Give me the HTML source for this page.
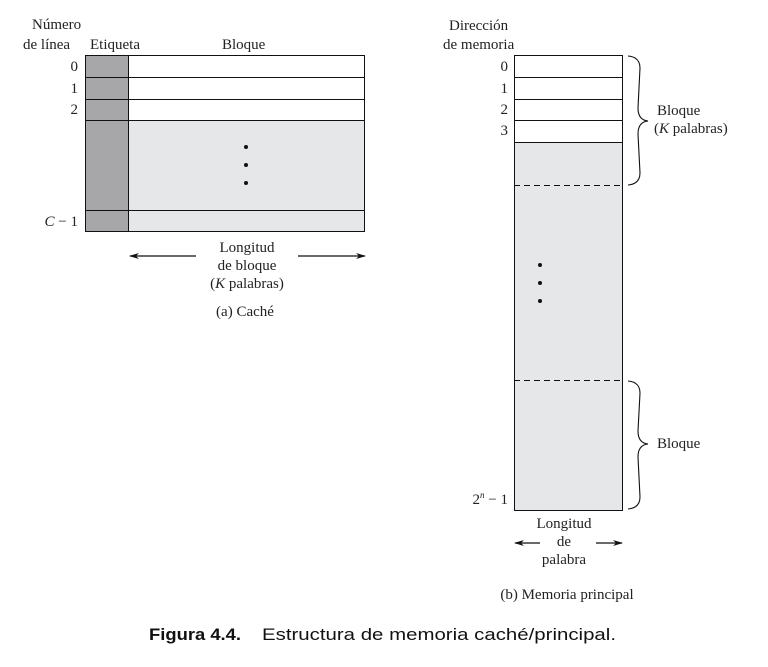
<!DOCTYPE html>
<html><head><meta charset="utf-8"><style>
html,body{margin:0;padding:0;background:#fff;}
svg{display:block;}
.s{font-family:"Liberation Serif",serif;font-size:15px;fill:#222;}
</style></head><body>
<svg width="768" height="667" viewBox="0 0 768 667" xmlns="http://www.w3.org/2000/svg">
<defs>
<marker id="ah" markerWidth="10" markerHeight="6" refX="9" refY="3" orient="auto" markerUnits="userSpaceOnUse">
<path d="M0,0 L10,3 L0,6 L3,3 Z" fill="#111"/>
</marker>
</defs>
<!-- Cache -->
<text class="s" x="32" y="29">Número</text>
<text class="s" x="23" y="49">de línea</text>
<text class="s" x="90" y="49">Etiqueta</text>
<text class="s" x="222" y="49">Bloque</text>
<rect x="128.5" y="120.5" width="236" height="111" fill="#e6e7e9"/>
<rect x="85.5" y="55.5" width="43" height="176" fill="#a7a7aa" stroke="#111"/>
<rect x="85.5" y="55.5" width="279" height="176" fill="none" stroke="#111"/>
<g stroke="#111">
<line x1="85" y1="77.5" x2="365" y2="77.5"/>
<line x1="85" y1="99.5" x2="365" y2="99.5"/>
<line x1="85" y1="120.5" x2="365" y2="120.5"/>
<line x1="85" y1="210.5" x2="365" y2="210.5"/>
</g>
<g fill="#111"><circle cx="246" cy="147" r="2"/><circle cx="246" cy="165" r="2"/><circle cx="246" cy="183" r="2"/></g>
<g class="s" text-anchor="end">
<text x="78" y="71">0</text><text x="78" y="93">1</text><text x="78" y="114">2</text>
<text x="78" y="226"><tspan font-style="italic">C</tspan> − 1</text>
</g>
<g stroke="#111" stroke-width="1.2">
<line x1="196" y1="256" x2="130" y2="256" marker-end="url(#ah)"/>
<line x1="298" y1="256" x2="365" y2="256" marker-end="url(#ah)"/>
</g>
<g class="s" text-anchor="middle">
<text x="247" y="252">Longitud</text>
<text x="247" y="270">de bloque</text>
<text x="247" y="288">(<tspan font-style="italic">K</tspan> palabras)</text>
<text x="245" y="316">(a) Caché</text>
</g>
<!-- Memory -->
<text class="s" x="449" y="30">Dirección</text>
<text class="s" x="443" y="49">de memoria</text>
<rect x="514.5" y="142.5" width="108" height="368" fill="#e6e7e9"/>
<rect x="514.5" y="55.5" width="108" height="455" fill="none" stroke="#111"/>
<g stroke="#111">
<line x1="514" y1="77.5" x2="623" y2="77.5"/>
<line x1="514" y1="99.5" x2="623" y2="99.5"/>
<line x1="514" y1="120.5" x2="623" y2="120.5"/>
<line x1="514" y1="142.5" x2="623" y2="142.5"/>
<line x1="514" y1="185.5" x2="623" y2="185.5" stroke-dasharray="6,4"/>
<line x1="514" y1="380.5" x2="623" y2="380.5" stroke-dasharray="6,4"/>
</g>
<g fill="#111"><circle cx="540" cy="265" r="2"/><circle cx="540" cy="283" r="2"/><circle cx="540" cy="301" r="2"/></g>
<g class="s" text-anchor="end">
<text x="508" y="71">0</text><text x="508" y="93">1</text><text x="508" y="114">2</text><text x="508" y="135">3</text>
<text x="508" y="504">2<tspan font-size="9" dy="-6" font-style="italic">n</tspan><tspan dy="6"> − 1</tspan></text>
</g>
<g fill="none" stroke="#111" stroke-width="1.1">
<path d="M628,56 Q640,57 640,68 L638,108 Q638,120 648,121 Q638,122 638,134 L640,173 Q640,184 628,185"/>
<path d="M628,381 Q640,382 640,393 L638,431 Q638,443 648,444 Q638,445 638,457 L640,497 Q640,508 628,509"/>
</g>
<text class="s" x="657" y="115">Bloque</text>
<text class="s" x="654" y="133">(<tspan font-style="italic">K</tspan> palabras)</text>
<text class="s" x="657" y="448">Bloque</text>
<g stroke="#111" stroke-width="1.2">
<line x1="540" y1="543" x2="515" y2="543" marker-end="url(#ah)"/>
<line x1="596" y1="543" x2="622" y2="543" marker-end="url(#ah)"/>
</g>
<g class="s" text-anchor="middle">
<text x="564" y="528">Longitud</text>
<text x="564" y="546">de</text>
<text x="564" y="564">palabra</text>
<text x="567" y="599">(b) Memoria principal</text>
</g>
<text x="149" y="640" font-family="Liberation Sans, sans-serif" font-size="17" font-weight="bold" fill="#111" textLength="92" lengthAdjust="spacingAndGlyphs">Figura 4.4.</text>
<text x="262" y="640" font-family="Liberation Sans, sans-serif" font-size="17" fill="#111" textLength="354" lengthAdjust="spacingAndGlyphs">Estructura de memoria caché/principal.</text>
</svg>
</body></html>
